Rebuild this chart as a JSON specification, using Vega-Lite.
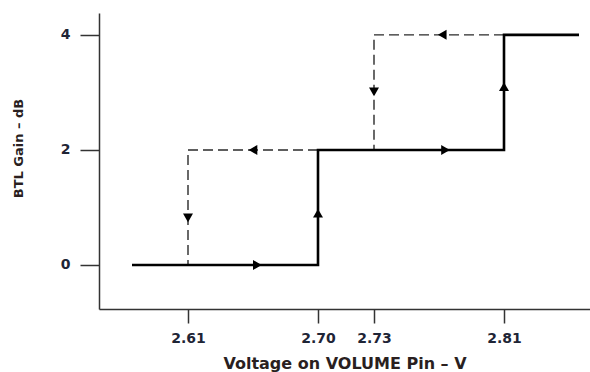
{
  "$schema": "https://vega.github.io/schema/vega-lite/v6.json",
  "width": 491,
  "height": 296,
  "autosize": {"type": "none"},
  "padding": {"left": 99, "top": 13, "right": 0, "bottom": 63},
  "background": "white",
  "config": {
    "view": {"stroke": null},
    "axis": {
      "labelFont": "DejaVu Sans",
      "titleFont": "DejaVu Sans",
      "labelFontWeight": "bold",
      "titleFontWeight": "bold",
      "labelColor": "#1f2536",
      "titleColor": "#2a1f1f",
      "domainColor": "#333333",
      "tickColor": "#333333",
      "domainWidth": 1.5,
      "tickWidth": 1.5,
      "grid": false
    }
  },
  "datasets": {
    "lines": [
      {"s": "up", "o": 1, "v": 2.57, "g": 0},
      {"s": "up", "o": 2, "v": 2.70, "g": 0},
      {"s": "up", "o": 3, "v": 2.70, "g": 2},
      {"s": "up", "o": 4, "v": 2.81, "g": 2},
      {"s": "up", "o": 5, "v": 2.81, "g": 4},
      {"s": "up", "o": 6, "v": 2.86, "g": 4},
      {"s": "down1", "o": 1, "v": 2.81, "g": 4},
      {"s": "down1", "o": 2, "v": 2.73, "g": 4},
      {"s": "down1", "o": 3, "v": 2.73, "g": 2},
      {"s": "down2", "o": 1, "v": 2.70, "g": 2},
      {"s": "down2", "o": 2, "v": 2.61, "g": 2},
      {"s": "down2", "o": 3, "v": 2.61, "g": 0}
    ],
    "arrows": [
      {"v": 2.658, "g": 0, "dir": "triangle-right"},
      {"v": 2.70, "g": 0.9, "dir": "triangle-up"},
      {"v": 2.774, "g": 2, "dir": "triangle-right"},
      {"v": 2.81, "g": 3.1, "dir": "triangle-up"},
      {"v": 2.772, "g": 4, "dir": "triangle-left"},
      {"v": 2.73, "g": 3.01, "dir": "triangle-down"},
      {"v": 2.655, "g": 2, "dir": "triangle-left"},
      {"v": 2.61, "g": 0.82, "dir": "triangle-down"}
    ]
  },
  "encoding": {
    "x": {
      "field": "v",
      "type": "quantitative",
      "scale": {
        "domain": [2.5464, 2.57, 2.61, 2.70, 2.73, 2.81, 2.86, 2.8673],
        "range": [0, 33, 89, 219, 275, 405, 480, 491],
        "zero": false,
        "nice": false
      },
      "axis": {
        "values": [2.61, 2.70, 2.73, 2.81],
        "format": ".2f",
        "title": "Voltage on VOLUME Pin – V",
        "tickSize": 14,
        "labelPadding": 8,
        "labelFontSize": 14,
        "titleFontSize": 16,
        "titleBaseline": "alphabetic",
        "titleY": 59
      }
    },
    "y": {
      "field": "g",
      "type": "quantitative",
      "scale": {"domain": [-0.765, 4.38], "zero": false, "nice": false},
      "axis": {
        "values": [0, 2, 4],
        "title": "BTL Gain – dB",
        "tickSize": 19,
        "labelPadding": 10,
        "labelFontSize": 14,
        "titleFontSize": 13,
        "titleX": -74,
        "titleY": 135
      }
    }
  },
  "layer": [
    {
      "data": {"name": "lines"},
      "transform": [{"filter": "datum.s != 'up'"}],
      "mark": {"type": "line", "color": "#2a2a2a", "strokeWidth": 1.4, "strokeDash": [10, 5], "strokeCap": "butt"},
      "encoding": {"detail": {"field": "s"}, "order": {"field": "o"}}
    },
    {
      "data": {"name": "lines"},
      "transform": [{"filter": "datum.s == 'up'"}],
      "mark": {"type": "line", "color": "#000000", "strokeWidth": 2.6, "strokeJoin": "miter"},
      "encoding": {"order": {"field": "o"}}
    },
    {
      "data": {"name": "arrows"},
      "mark": {"type": "point", "filled": true, "color": "#000000", "opacity": 1, "size": 100},
      "encoding": {"shape": {"field": "dir", "type": "nominal", "scale": null, "legend": null}}
    }
  ]
}
